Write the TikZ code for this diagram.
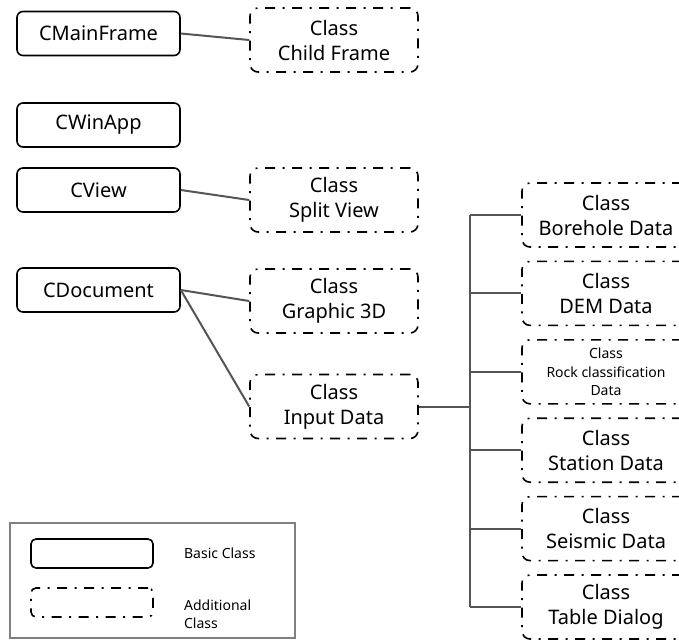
\documentclass[tikz,border=0pt]{standalone}
\usepackage{fontspec}
\setmainfont{Noto Sans}
\usetikzlibrary{positioning}
\definecolor{linkgray}{RGB}{85,85,85}
\definecolor{framegray}{RGB}{128,128,128}

\begin{document}
\begin{tikzpicture}[
  x=1pt, y=-1pt, line width=1.6pt,
  basic/.style={draw, rounded corners=6pt, minimum width=163pt, minimum height=44pt,
    inner sep=0pt, font=\fontsize{20}{25}\selectfont},
  extra/.style={draw, rounded corners=8pt, dash pattern=on 10pt off 7.5pt on 2pt off 7.5pt,
    minimum width=168pt, minimum height=64pt, inner sep=0pt, align=center,
    font=\fontsize{20}{25}\selectfont},
  link/.style={draw=linkgray, line width=2pt},
  small/.style={font=\fontsize{14}{18.5}\selectfont},
]
  \useasboundingbox (0,0) rectangle (679,640);

  % basic classes
  \node[basic] (mainframe) at (98.5,33.5) {CMainFrame};
  \node[basic] (winapp)    at (98.5,125)  {CWinApp};
  \node[basic] (view)      at (98.5,190)  {CView};
  \node[basic] (document)  at (98.5,290)  {CDocument};

  % additional classes
  \node[extra] (childframe) at (334,40)    {Class\\Child Frame};
  \node[extra] (splitview)  at (334,200)   {Class\\Split View};
  \node[extra] (graphic)    at (334,301)   {Class\\Graphic 3D};
  \node[extra] (input)      at (334,406.5) {Class\\Input Data};

  \node[extra] (borehole) at (606,215) {Class\\Borehole Data};
  \node[extra, below=12.8pt of borehole] (dem) {Class\\DEM Data};
  \node[extra, small, below=12.8pt of dem] (rock) {Class\\Rock classification\\Data};
  \node[extra, below=12.8pt of rock] (station) {Class\\Station Data};
  \node[extra, below=12.8pt of station] (seismic) {Class\\Seismic Data};
  \node[extra, below=12.8pt of seismic] (table) {Class\\Table Dialog};

  \draw[link] (mainframe.east) -- (childframe.west);
  \draw[link] (view.east) -- (splitview.west);
  \draw[link] (document.east) -- (graphic.west);
  \draw[link] (document.east) -- (input.west);

  \coordinate (bustop) at (470,215);
  \coordinate (busbot) at (470,607);
  \draw[link] (bustop) -- (busbot);
  \draw[link] (input.east) -- (input.east -| bustop);
  \foreach \n in {borehole,dem,rock,station,seismic,table}
    \draw[link] (\n.west -| bustop) -- (\n.west);

  % legend
  \draw[framegray, line width=2pt] (10,523) rectangle (295,638);
  \node[basic, minimum width=122pt, minimum height=29pt, rounded corners=5pt] (keybasic) at (92,553.5) {};
  \node[extra, minimum width=122pt, minimum height=29pt, rounded corners=5pt] (keyextra) at (92,602.5) {};
  \node[small, anchor=west] (keybasictext) at (180,553) {Basic Class};
  \node[small, anchor=west, align=left] (keyextratext) at (180,614) {Additional\\Class};
\end{tikzpicture}
\end{document}
